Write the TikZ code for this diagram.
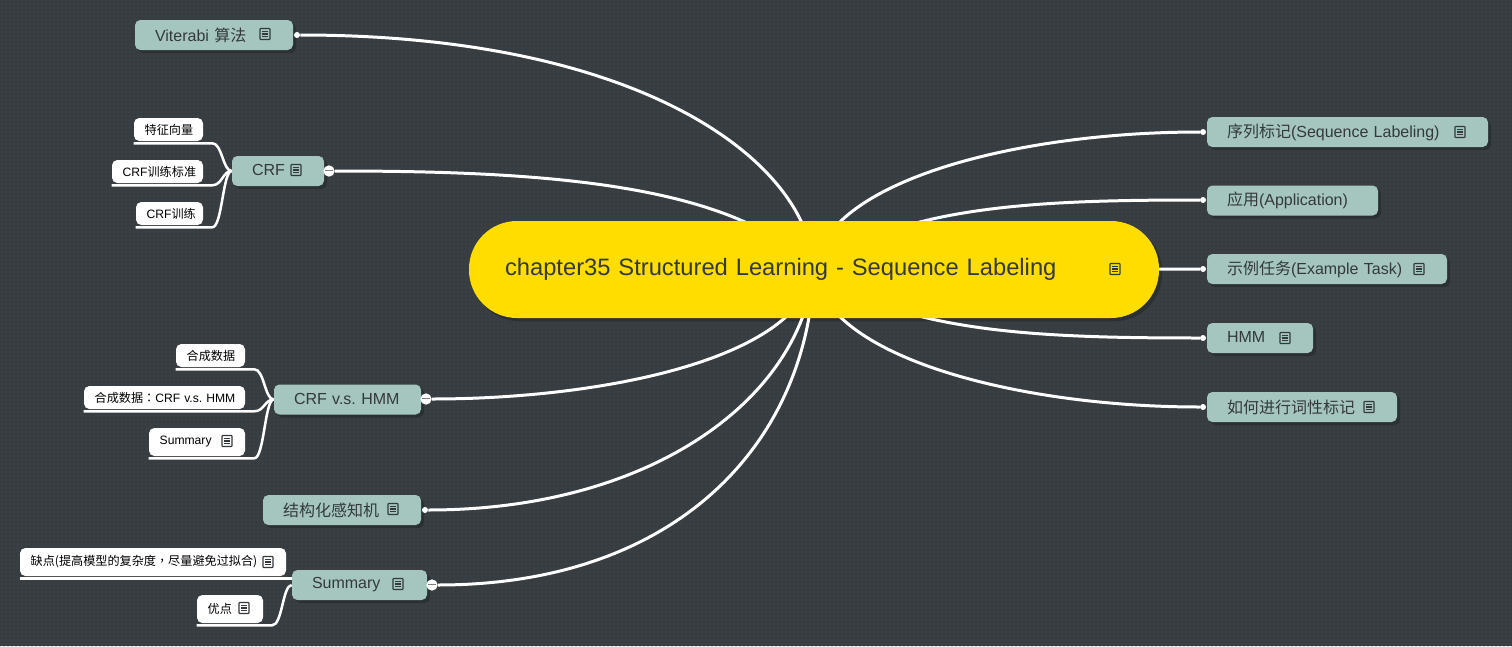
\documentclass[tikz,border=0pt]{standalone}
\usepackage{fontspec}
\usetikzlibrary{shadows, patterns}
\setmainfont{Liberation Sans}
\newfontfamily\cjk{Noto Sans CJK SC}
\newfontfamily\cjktc{Noto Sans CJK TC}
\definecolor{boardgrey}{HTML}{383E42}
\definecolor{dotgrey}{HTML}{2F3539}
\definecolor{shadegrey}{HTML}{2A2F32}
\definecolor{topicgreen}{HTML}{A5C6BE}
\definecolor{rootyellow}{HTML}{FFDD00}
\definecolor{inkgrey}{HTML}{33393C}
\pgfdeclarelayer{board}
\pgfdeclarelayer{wires}
\pgfsetlayers{board,wires,main}
\tikzset{
    x=.75pt, y=-.75pt,
    boxshade/.style={drop shadow={shadow xshift=2.25pt, shadow yshift=-2.25pt, fill=shadegrey, opacity=.9}},
    rootbox/.style={rounded corners=36pt, fill=rootyellow, text=inkgrey, font=\fontsize{17.8}{20}\selectfont, minimum height=72.75pt, inner xsep=27pt, align=left},
    topic/.style={rounded corners=4pt, fill=topicgreen, text=inkgrey, font=\fontsize{12}{14}\selectfont\frenchspacing, minimum height=22.5pt, inner xsep=15pt, inner ysep=0pt, align=left, boxshade},
    leaf/.style={rounded corners=4pt, fill=white, text=black, font=\fontsize{9.1}{11}\selectfont\frenchspacing, minimum height=17.25pt, inner xsep=8pt, inner ysep=0pt, align=left},
    tallleaf/.style={leaf, minimum height=21pt},
    enddot/.style={circle, fill=white, inner sep=0pt, minimum size=4.5pt},
    fold/.style={circle, fill=white, inner sep=0pt, minimum size=8.5pt},
    wire/.style={draw=white, line width=2.25pt},
    twig/.style={draw=white, line width=1.9pt},
    noteicon/.pic={
        \draw[inkgrey, line width=.8pt, rounded corners=.4pt] (-5,-5.5) rectangle (5,5.5);
        \foreach \ly in {-2.4,0,2.4}
            \draw[inkgrey, line width=.8pt] (-2.8,\ly) -- (2.8,\ly);
    }
}
\newcommand{\foldmark}{\textcolor{gray}{\rule[.2pt]{6pt}{.75pt}}}
\newcommand{\lifted}[1]{\raisebox{1.5pt}{#1}}
\newcommand{\twigline}[2]{\draw[twig] ([yshift=-1.5pt]#1.south west) -- ([yshift=-1.5pt]#1.south east) -- ++(9,0) .. controls +(10,0) and +(-9,0) .. (#2.west);}
\begin{document}
\begin{tikzpicture}
    \useasboundingbox (0,0) rectangle (1512,646);
    \begin{pgfonlayer}{board}
    \fill[boardgrey] (0,0) rectangle (1512,646);
    \fill[pattern=dots, pattern color=dotgrey] (0,0) rectangle (1512,646);
    \end{pgfonlayer}

    % centre
    \node[rootbox, text width=463.5pt] (root) at (814,269.5) {\mbox{chapter35 Structured Learning - Sequence Labeling}};
    \pic at (1115,269) {noteicon};

    % right side
    \node[topic, text width=180.75pt] (seqlabel) at (1347.5,132) {\mbox{{\cjk 序列标记}(Sequence Labeling)}};
    \node[topic, text width=98.25pt] (application) at (1292.5,200.5) {\mbox{{\cjk 应用}(Application)}};
    \node[topic, text width=150pt] (example) at (1327,269) {\mbox{{\cjk 示例任务}(Example Task)}};
    \node[topic, text width=49.5pt] (hmm) at (1260,338) {\lifted{HMM}};
    \node[topic, text width=112.5pt] (howto) at (1302,407) {{\cjk 如何进行词性标记}};
    \pic at (1460,132) {noteicon};
    \pic at (1419,269) {noteicon};
    \pic at (1285,338) {noteicon};
    \pic at (1369,407) {noteicon};
    \node[enddot] (seqlabeldot) at (1203,132) {};
    \node[enddot] (applicationdot) at (1203,200) {};
    \node[enddot] (exampledot) at (1203,269) {};
    \node[enddot] (hmmdot) at (1203,338) {};
    \node[enddot] (howtodot) at (1203,407) {};

    % left side
    \node[topic, text width=88.5pt] (viterbi) at (214,35) {\mbox{Viterabi {\cjk 算法}}};
    \node[topic, text width=39pt] (crf) at (278,171) {\lifted{CRF}};
    \node[topic, text width=80.25pt] (crfhmm) at (347.5,399.5) {\lifted{\mbox{CRF v.s. HMM}}};
    \node[topic, text width=88.5pt] (percep) at (342,510) {{\cjk 结构化感知机}};
    \node[topic, text width=71.25pt] (summary) at (359.5,585) {\lifted{Summary}};
    \pic at (265,34) {noteicon};
    \pic at (296,170) {noteicon};
    \pic at (393,509) {noteicon};
    \pic at (398,584) {noteicon};
    \node[enddot] (viterbidot) at (297,35) {};
    \node[fold] (crffold) at (329,171) {\foldmark};
    \node[fold] (crfhmmfold) at (426,399) {\foldmark};
    \node[enddot] (percepdot) at (425,510) {};
    \node[fold] (summaryfold) at (432,585) {\foldmark};

    % leaves
    \node[leaf, text width=35.75pt] (feature) at (168.5,129.5) {{\cjk 特征向量}};
    \node[leaf, text width=52.25pt] (crfcrit) at (157.5,171.5) {\mbox{CRF{\cjk 训练标准}}};
    \node[leaf, text width=34.25pt] (crftrain) at (169.5,213.5) {\mbox{CRF{\cjk 训练}}};
    \node[leaf, text width=35.75pt] (synth) at (210.5,355.5) {{\cjk 合成数据}};
    \node[leaf, text width=104.75pt] (synthcmp) at (164.5,397.5) {\mbox{{\cjk 合成数据}{\cjktc ：}CRF v.s. HMM}};
    \node[tallleaf, text width=56pt] (crfsum) at (197,442) {Summary};
    \node[tallleaf, text width=183.5pt] (weak) at (153,562) {\mbox{{\cjk 缺点(提高模型的复杂度}{\cjktc ，}{\cjk 尽量避免过拟合)}}};
    \node[tallleaf, text width=33.5pt] (strong) at (230,609) {{\cjk 优点}};
    \pic at (227,441) {noteicon};
    \pic at (268,562) {noteicon};
    \pic at (244,608) {noteicon};

    \begin{pgfonlayer}{wires}
    \fill[shadegrey, opacity=.9, rounded corners=36pt] ([shift={(3,3)}]root.north west) rectangle ([shift={(3,3)}]root.south east);
    \draw[wire] (root.center) .. controls (825,180) and (1020,132) .. (seqlabeldot);
    \draw[wire] (root.center) .. controls (900,205) and (1040,200) .. (applicationdot);
    \draw[wire] (root.center) -- (exampledot);
    \draw[wire] (root.center) .. controls (900,333) and (1040,338) .. (hmmdot);
    \draw[wire] (root.center) .. controls (825,358) and (1020,407) .. (howtodot);
    \draw[wire] (root.center) .. controls (808,160) and (640,35) .. (viterbidot);
    \draw[wire] (root.center) .. controls (735,183) and (540,171) .. (crffold);
    \draw[wire] (root.center) .. controls (800,360) and (600,399) .. (crfhmmfold);
    \draw[wire] (root.center) .. controls (800,400) and (650,510) .. (percepdot);
    \draw[wire] (root.center) .. controls (808,440) and (680,585) .. (summaryfold);
    \twigline{feature}{crf}
    \twigline{crfcrit}{crf}
    \twigline{crftrain}{crf}
    \twigline{synth}{crfhmm}
    \twigline{synthcmp}{crfhmm}
    \twigline{crfsum}{crfhmm}
    \draw[twig] ([yshift=-1.5pt]weak.south west) -- ([yshift=-1.5pt]weak.south west -| summary.west);
    \twigline{strong}{summary}
    \end{pgfonlayer}
\end{tikzpicture}
\end{document}
